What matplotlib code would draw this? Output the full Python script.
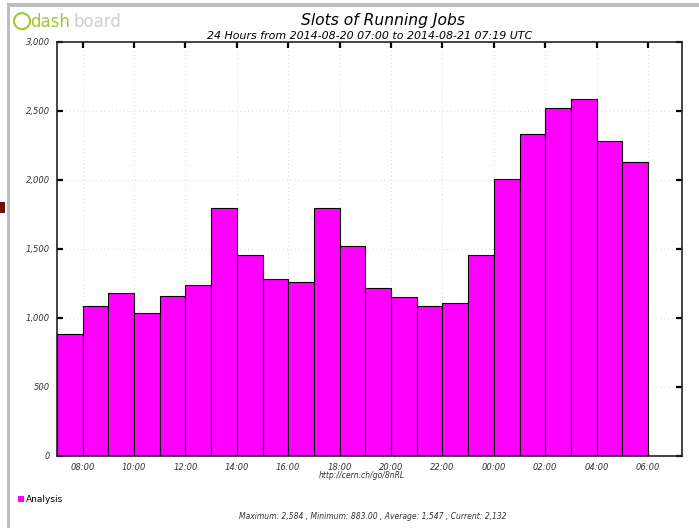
import matplotlib
matplotlib.use("Agg")
import matplotlib.pyplot as plt
import matplotlib.dates as mdates
import matplotlib.ticker as mticker
from matplotlib.patches import Rectangle, Ellipse
import pandas as pd

# hourly slots, 07:00 -> 06:00 next day
start = "2014-08-20 07:00"
end = "2014-08-21 07:19"
jobs = [883, 1090, 1180, 1035, 1160, 1240, 1795, 1455, 1280, 1260, 1795, 1525,
        1215, 1150, 1090, 1110, 1455, 2010, 2335, 2520, 2584, 2280, 2132]
series_name = "Analysis"
y_ticks = [0, 500, 1000, 1500, 2000, 2500, 3000]

times = pd.date_range(start, periods=len(jobs), freq="h")

fig = plt.figure(figsize=(6.99, 5.28), dpi=100)
ax = fig.add_axes([0.0815, 0.1364, 0.894, 0.7841])

ax.bar(times, jobs, width=1 / 24, align="edge", color="#ff00ff",
       edgecolor="black", linewidth=0.8, zorder=2)

ax.set_xlim(pd.Timestamp(start), pd.Timestamp(end))
ax.set_ylim(0, 3000)
ax.set_yticks(y_ticks)
ax.yaxis.set_major_formatter(mticker.FuncFormatter(lambda v, p: f"{int(v):,}"))
ax.xaxis.set_major_locator(mdates.HourLocator(byhour=range(0, 24, 2)))
ax.xaxis.set_major_formatter(mdates.DateFormatter("%H:%M"))

ax.grid(True, linestyle=(0, (1, 3)), color="#d5d5d5", linewidth=0.7, zorder=0)
ax.tick_params(direction="in", length=4, width=1.6, color="black",
               top=True, right=True, labelsize=6, pad=5)
for lab in ax.get_xticklabels() + ax.get_yticklabels():
    lab.set_fontstyle("italic")
    lab.set_color("#333333")
for s in ax.spines.values():
    s.set_linewidth(1.2)
    s.set_color("#222222")

# titles
fig.text(0.548, 0.962, "Slots of Running Jobs", ha="center", va="center",
         fontsize=11.2, fontstyle="italic")
fig.text(0.529, 0.931, "24 Hours from 2014-08-20 07:00 to 2014-08-21 07:19 UTC",
         ha="center", va="center", fontsize=7.9, fontstyle="italic")

# url under axis
fig.text(0.518, 0.1, "http://cern.ch/go/8nRL", ha="center", va="center",
         fontsize=5.5, fontstyle="italic", color="#333333")

# legend
fig.patches.append(Rectangle((0.026, 0.049), 0.008, 0.011, transform=fig.transFigure,
                             facecolor="#ff00ff", edgecolor="none"))
fig.text(0.037, 0.054, series_name, ha="left", va="center", fontsize=6.5)

# summary
fig.text(0.533, 0.021, "Maximum: 2,584 , Minimum: 883.00 , Average: 1,547 , Current: 2,132",
         ha="center", va="center", fontsize=5.5, fontstyle="italic", color="#333333")

# page frame
fig.patches.append(Rectangle((0.01, 0.987), 0.99, 0.008, transform=fig.transFigure,
                             facecolor="#bdbdbd", edgecolor="none"))
fig.patches.append(Rectangle((0.01, 0.0), 0.005, 0.995, transform=fig.transFigure,
                             facecolor="#bdbdbd", edgecolor="none"))
fig.patches.append(Rectangle((0.0, 0.597), 0.007, 0.02, transform=fig.transFigure,
                             facecolor="#6b1200", edgecolor="none"))

# dashboard logo
fig.patches.append(Ellipse((0.0315, 0.960), 0.0229, 0.0303, transform=fig.transFigure,
                           facecolor="none", edgecolor="#a0c832", linewidth=1.5))
fig.text(0.043, 0.958, "dash", ha="left", va="center", fontsize=12,
         color="#a0c832")
fig.text(0.1045, 0.958, "board", ha="left", va="center", fontsize=12,
         color="#cfcfcf")

fig.savefig("out.png", dpi=100)
